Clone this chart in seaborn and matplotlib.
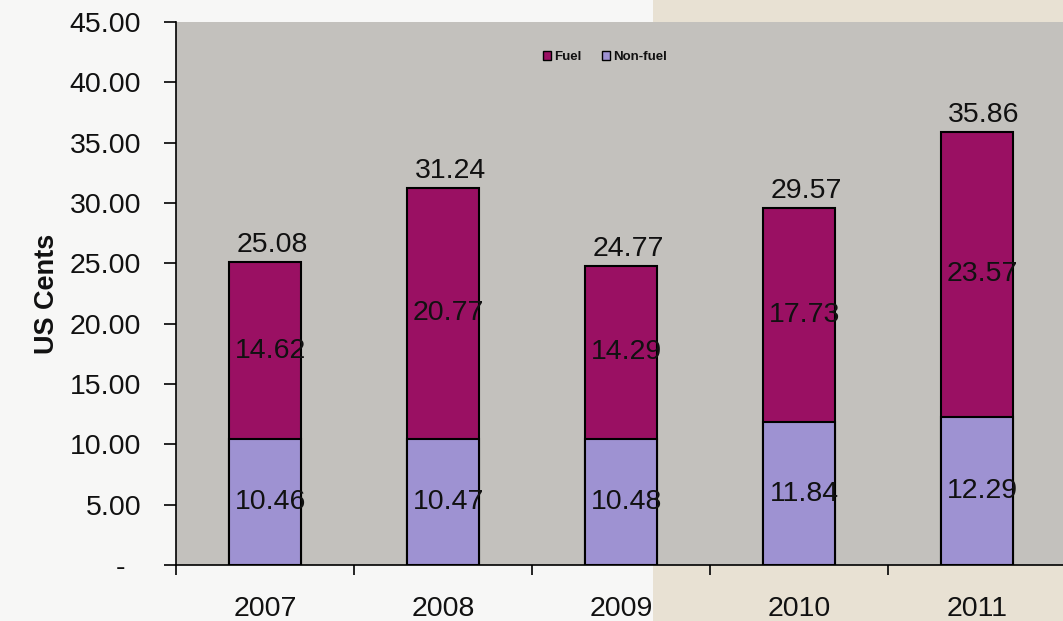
import matplotlib
matplotlib.use("Agg")
import matplotlib.pyplot as plt
import seaborn as sns
import pandas as pd
from matplotlib.patches import Rectangle, Patch

years = ["2007", "2008", "2009", "2010", "2011"]
non_fuel = [10.46, 10.47, 10.48, 11.84, 12.29]
fuel = [14.62, 20.77, 14.29, 17.73, 23.57]
totals = [25.08, 31.24, 24.77, 29.57, 35.86]
y_ticks = [0, 5, 10, 15, 20, 25, 30, 35, 40, 45]

FUEL_C = "#9a1063"
NONFUEL_C = "#9e92d2"
PLOT_BG = "#c3c1bd"
FIG_BG = "#f7f7f6"
BEIGE = "#e8e1d3"
TXT = "#111111"

sns.set_theme(style="white")
plt.rcParams["font.family"] = ["Liberation Sans", "DejaVu Sans"]

df = pd.DataFrame({"year": years, "non_fuel": non_fuel, "fuel": fuel, "total": totals})

fig = plt.figure(figsize=(10.63, 6.21), dpi=100, facecolor=FIG_BG)
fig.patches.append(Rectangle((653 / 1063, 0), 1 - 653 / 1063, 1, transform=fig.transFigure,
                             facecolor=BEIGE, edgecolor="none", zorder=-10))
ax = fig.add_axes([176 / 1063, (621 - 565) / 621, 890 / 1063, 543 / 621])
ax.set_facecolor(PLOT_BG)

sns.barplot(data=df, x="year", y="total", color=FUEL_C, edgecolor="black", linewidth=1.5,
            width=0.4, saturation=1, ax=ax)
sns.barplot(data=df, x="year", y="non_fuel", color=NONFUEL_C, edgecolor="black", linewidth=1.5,
            width=0.4, saturation=1, ax=ax)

for i in range(len(years)):
    ax.text(i + 0.03, non_fuel[i] / 2, f"{non_fuel[i]:.2f}", ha="center", va="center", fontsize=20.5, color=TXT)
    ax.text(i + 0.03, non_fuel[i] + fuel[i] / 2, f"{fuel[i]:.2f}", ha="center", va="center", fontsize=20.5, color=TXT)
    ax.text(i + 0.04, totals[i] + 0.35, f"{totals[i]:.2f}", ha="center", va="bottom", fontsize=20.5, color=TXT)

ax.set_xlim(-0.5, 4.5)
ax.set_ylim(0, 45)
ax.set_yticks(y_ticks)
ax.set_yticklabels(["-  " if v == 0 else f"{v:.2f}" for v in y_ticks], fontsize=20.5, color=TXT)
ax.tick_params(axis="y", direction="out", length=9, width=1.2, color="black", pad=16, left=True)
ax.set_xticks(range(len(years)))
ax.set_xticklabels(years, fontsize=20.5, color=TXT)
ax.tick_params(axis="x", which="major", length=0, pad=22)
ax.set_xticks([-0.5, 0.5, 1.5, 2.5, 3.5, 4.5], minor=True)
ax.tick_params(axis="x", which="minor", direction="out", length=7, width=1.2, color="black", bottom=True)

for s in ["top", "right"]:
    ax.spines[s].set_visible(False)
for s in ["left", "bottom"]:
    ax.spines[s].set_color("black")
    ax.spines[s].set_linewidth(1.2)

ax.set_xlabel("")
ax.set_ylabel("US Cents", fontsize=19.5, fontweight="bold", color=TXT)
ax.yaxis.set_label_coords(-0.13, 0.5)

handles = [Patch(facecolor=FUEL_C, edgecolor="black", label="Fuel"),
           Patch(facecolor=NONFUEL_C, edgecolor="black", label="Non-fuel")]
ax.legend(handles=handles, loc="center", bbox_to_anchor=(0.482, 0.935), ncol=2, frameon=False,
          prop={"size": 9.5, "weight": "bold"}, handlelength=0.6, handleheight=0.6,
          handletextpad=0.2, columnspacing=1.6, labelcolor=TXT)

fig.savefig("out.png", dpi=100, facecolor=FIG_BG)
